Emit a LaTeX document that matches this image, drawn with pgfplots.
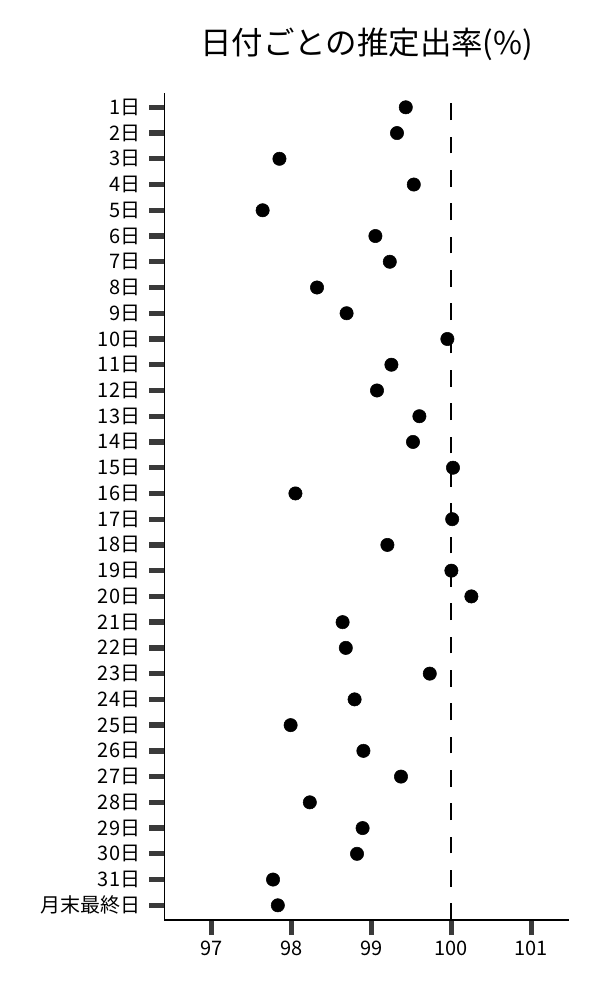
\documentclass[border=0pt]{standalone}
\usepackage{fontspec}
\usepackage{pgfplots}
\usepackage{pgfplotstable}
\pgfplotsset{compat=1.18}
\newfontfamily\cjk{Noto Sans CJK JP}
\definecolor{tickgray}{HTML}{3A3A3A}

% estimated rate per day (row 0 = 1st, row 31 = month end)
\pgfplotstableread{
idx rate
0  99.43
1  99.32
2  97.85
3  99.53
4  97.64
5  99.05
6  99.23
7  98.32
8  98.69
9  99.95
10 99.25
11 99.07
12 99.60
13 99.52
14 100.02
15 98.05
16 100.01
17 99.20
18 100.00
19 100.25
20 98.64
21 98.68
22 99.73
23 98.79
24 97.99
25 98.90
26 99.37
27 98.23
28 98.89
29 98.82
30 97.77
31 97.83
}\ratedata

\begin{document}
\begin{tikzpicture}
\path[use as bounding box] (0pt,0pt) rectangle (450pt,750pt);
\node[anchor=base, font=\cjk\fontsize{23.6}{28}\selectfont] at (275pt,708.75pt) {日付ごとの推定出率(\%)};
\begin{axis}[
    at={(123.2pt,60pt)}, anchor=south west,
    scale only axis,
    width=303.5pt, height=620.25pt,
    xmin=96.41, xmax=101.47,
    ymin=-0.556, ymax=31.571,
    y dir=reverse,
    axis x line*=bottom, axis y line*=left,
    axis line style={-, line width=1pt, black},
    xtick={97,98,99,100,101},
    ytick={0,1,...,31},
    yticklabels={1日,2日,3日,4日,5日,6日,7日,8日,9日,10日,11日,12日,13日,14日,15日,16日,
        17日,18日,19日,20日,21日,22日,23日,24日,25日,26日,27日,28日,29日,30日,31日,月末最終日},
    tick align=outside,
    major tick length=11.25pt,
    tick style={line width=4pt, tickgray},
    ticklabel style={font=\cjk\fontsize{15}{17}\selectfont},
    yticklabel style={xshift=-3.3pt},
    xticklabel style={yshift=-1.2pt},
    /pgf/number format/assume math mode=true,
    clip=false,
]
% reference line at 100, drawn bottom to top so the dashes start at the axis
\addplot[black, line width=1.5pt, dash pattern=on 12.5pt off 12.5pt]
    coordinates {(100,31.571) (100,-0.556)};
\addplot[only marks, mark=*, mark size=5pt, black] table[x=rate, y=idx] {\ratedata};
\end{axis}
\end{tikzpicture}
\end{document}
